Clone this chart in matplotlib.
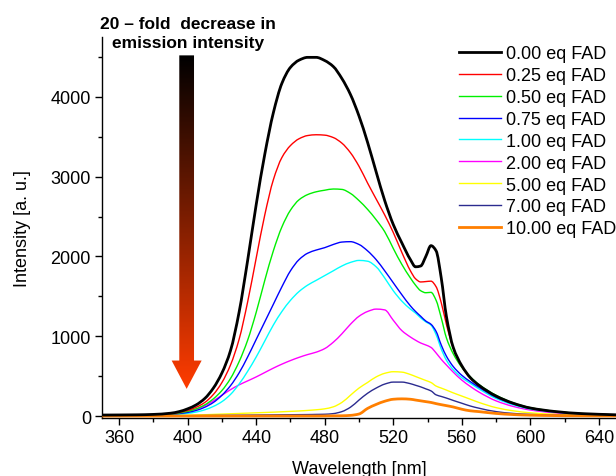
import numpy as np
import matplotlib
matplotlib.use("Agg")
import matplotlib.pyplot as plt
from matplotlib.patches import Polygon, PathPatch
from matplotlib.path import Path
from matplotlib.lines import Line2D
from matplotlib.colors import LinearSegmentedColormap
from matplotlib.ticker import MultipleLocator

plt.rcParams['font.family'] = ['Liberation Sans', 'DejaVu Sans']

# wavelength grid (nm)
wl = [350, 370, 380, 390, 395, 400, 405, 410, 415, 420, 425, 430, 435, 440, 445,
      450, 455, 460, 465, 470, 475, 480, 485, 490, 495, 500, 505, 510, 515, 520,
      525, 530, 533, 536, 539, 542, 545, 548, 551, 555, 560, 565, 570, 580, 590,
      600, 615, 630, 650]

fad_000 = [12, 15, 20, 35, 55, 90, 140, 220, 350, 540, 820, 1300, 1950, 2650, 3280,
           3800, 4170, 4370, 4460, 4495, 4495, 4455, 4380, 4230, 4030, 3760, 3430, 3060, 2700, 2400,
           2170, 1960, 1870, 1880, 2000, 2135, 2070, 1730, 1250, 860, 630, 480, 385, 250, 160,
           100, 55, 30, 15]
fad_025 = [10, 12, 16, 28, 45, 70, 110, 170, 270, 420, 640, 960, 1430, 1980, 2520,
           2960, 3240, 3390, 3475, 3515, 3525, 3520, 3490, 3420, 3300, 3130, 2920, 2720, 2520, 2300,
           2050, 1820, 1720, 1680, 1685, 1690, 1620, 1420, 1150, 850, 620, 475, 380, 245, 158,
           100, 54, 30, 15]
fad_050 = [10, 12, 15, 24, 38, 58, 90, 140, 215, 320, 470, 680, 950, 1300, 1700,
           2070, 2370, 2580, 2710, 2775, 2810, 2830, 2845, 2840, 2790, 2700, 2590, 2460, 2310, 2100,
           1900, 1730, 1640, 1570, 1545, 1550, 1450, 1230, 980, 780, 610, 490, 395, 260, 165,
           105, 57, 31, 15]
fad_075 = [8, 10, 13, 20, 30, 45, 70, 110, 170, 260, 380, 540, 740, 960, 1180,
           1400, 1620, 1820, 1960, 2040, 2080, 2110, 2150, 2180, 2185, 2150, 2070, 1960, 1820, 1670,
           1520, 1380, 1310, 1250, 1190, 1150, 1060, 890, 750, 620, 510, 430, 360, 235, 152,
           96, 52, 28, 14]
fad_100 = [7, 9, 11, 16, 23, 33, 50, 78, 120, 180, 270, 400, 560, 740, 940,
           1140, 1310, 1450, 1560, 1640, 1700, 1760, 1820, 1880, 1925, 1950, 1940, 1870, 1730, 1570,
           1440, 1340, 1290, 1230, 1180, 1140, 1020, 840, 700, 580, 480, 410, 340, 220, 140,
           88, 48, 26, 13]
fad_200 = [5, 6, 8, 20, 35, 55, 85, 130, 190, 260, 330, 390, 440, 490, 545,
           600, 650, 695, 735, 770, 800, 845, 925, 1030, 1150, 1250, 1310, 1340, 1330, 1200,
           1070, 990, 950, 915, 890, 860, 790, 710, 640, 550, 450, 370, 300, 190, 120,
           75, 38, 20, 10]
fad_500 = [2, 3, 4, 6, 8, 10, 13, 16, 20, 24, 28, 32, 36, 40, 44,
           48, 53, 58, 63, 70, 78, 90, 115, 170, 260, 350, 420, 490, 535, 555,
           550, 520, 495, 470, 445, 420, 375, 350, 325, 290, 250, 210, 170, 105, 65,
           40, 20, 10, 5]
fad_700 = [1, 1, 2, 2, 3, 4, 5, 6, 7, 8, 9, 10, 11, 12, 13,
           14, 15, 16, 17, 18, 20, 22, 30, 55, 110, 200, 285, 350, 400, 425,
           425, 405, 385, 365, 340, 315, 265, 245, 225, 195, 160, 125, 98, 55, 32,
           20, 10, 5, 2]
fad_1000 = [0, 0, 0, 0, 0, 0, 0, 0, 0, 0, 0, 0, 0, 0, 0,
            0, 0, 0, 0, 0, 0, 1, 2, 3, 8, 25, 95, 145, 185, 210,
            215, 210, 200, 190, 180, 170, 155, 142, 130, 113, 85, 65, 55, 32, 18,
            10, 5, 2, 1]

series = [fad_000, fad_025, fad_050, fad_075, fad_100, fad_200, fad_500, fad_700, fad_1000]
labels = ['0.00 eq FAD', '0.25 eq FAD', '0.50 eq FAD', '0.75 eq FAD', '1.00 eq FAD',
          '2.00 eq FAD', '5.00 eq FAD', '7.00 eq FAD', '10.00 eq FAD']
colors = ['black', '#ff0000', '#00f000', '#0000ff', '#00ffff', '#ff00ff', '#ffff00',
          '#2b2b8f', '#ff7f00']
widths = [2.0, 1.0, 1.0, 1.0, 1.0, 1.0, 1.0, 1.0, 2.0]
zorders = [3.5, 2.4, 2.3, 2.2, 2.1, 2.0, 2.0, 2.0, 3.0]


def smooth_path(x, y):
    # piecewise cubic (monotone Hermite) drawn as Bezier segments, like Origin's spline connect
    x = np.asarray(x, float)
    y = np.asarray(y, float)
    h = np.diff(x)
    d = np.diff(y) / h
    m = np.zeros_like(y)
    m[0], m[-1] = d[0], d[-1]
    for i in range(1, len(x) - 1):
        if d[i - 1] * d[i] > 0:
            w1 = 2 * h[i] + h[i - 1]
            w2 = h[i] + 2 * h[i - 1]
            m[i] = (w1 + w2) / (w1 / d[i - 1] + w2 / d[i])
    verts = [(x[0], y[0])]
    codes = [Path.MOVETO]
    for i in range(len(x) - 1):
        verts += [(x[i] + h[i] / 3, y[i] + m[i] * h[i] / 3),
                  (x[i + 1] - h[i] / 3, y[i + 1] - m[i + 1] * h[i] / 3),
                  (x[i + 1], y[i + 1])]
        codes += [Path.CURVE4] * 3
    return Path(verts, codes)


fig = plt.figure(figsize=(6.16, 4.77), dpi=100)
ax = fig.add_axes([0.1656, 0.1216, 0.8344, 0.7987])

handles = []
for y, lab, c, lw, z in zip(series, labels, colors, widths, zorders):
    ax.add_patch(PathPatch(smooth_path(wl, y), fill=False, edgecolor=c, lw=lw, zorder=z,
                           capstyle='round', joinstyle='round'))
    handles.append(Line2D([], [], color=c, lw=lw, label=lab))

# gradient arrow
cx = 399.4
arrow = Polygon([[cx - 4.3, 4520], [cx + 4.3, 4520], [cx + 4.3, 695], [cx + 8.75, 695],
                 [cx, 340], [cx - 8.75, 695], [cx - 4.3, 695]],
                closed=True, facecolor='none', edgecolor='none')
ax.add_patch(arrow)
cmap = LinearSegmentedColormap.from_list('arr', ['#000000', '#ff3c00'])
grad = np.linspace(0, 1, 256).reshape(-1, 1)
im = ax.imshow(grad, extent=[cx - 9, cx + 9, 340, 4520], cmap=cmap, aspect='auto',
               origin='upper', zorder=1)
im.set_clip_path(arrow)

ax.text(0.305, 0.929, '20 \u2013 fold  decrease in\nemission intensity', transform=fig.transFigure,
        ha='center', va='center', fontsize=12.5, fontweight='bold', linespacing=1.35)

ax.set_xlim(350, 650)
ax.set_ylim(-25, 4750)
ax.xaxis.set_minor_locator(MultipleLocator(20))
ax.yaxis.set_major_locator(MultipleLocator(1000))
ax.yaxis.set_minor_locator(MultipleLocator(500))
ax.set_xticks(np.arange(360, 641, 40))
ax.tick_params(which='major', direction='out', length=5, width=1, labelsize=13, pad=3)
ax.tick_params(which='minor', direction='out', length=3, width=1)
for s in ['top', 'right']:
    ax.spines[s].set_visible(False)
for s in ['left', 'bottom']:
    ax.spines[s].set_linewidth(1)

ax.set_xlabel('Wavelength [nm]', fontsize=13, labelpad=10)
ax.set_ylabel('Intensity [a. u.]', fontsize=13, labelpad=14)

ax.legend(handles=handles, loc='upper right', bbox_to_anchor=(1.0, 0.903),
          bbox_transform=fig.transFigure, frameon=False, fontsize=13, handlelength=2.35,
          handletextpad=0.25, labelspacing=0.27, borderaxespad=0, borderpad=0)

fig.savefig('out.png', dpi=100)
